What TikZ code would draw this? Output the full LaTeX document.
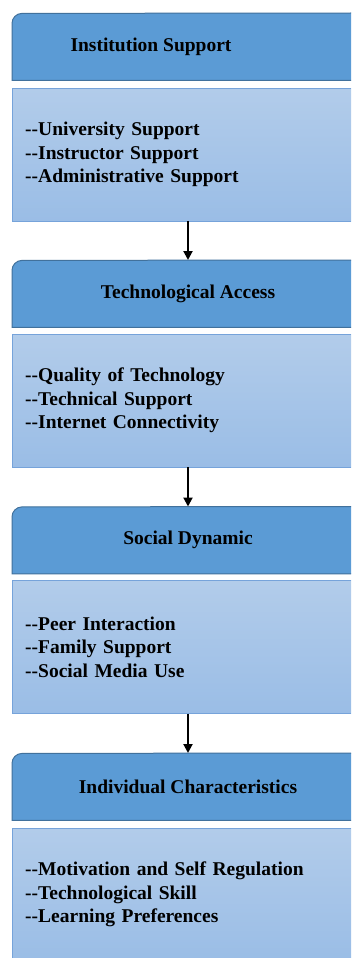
\documentclass[tikz,border=0pt]{standalone}
\usepackage{fontspec}
\setmainfont{Liberation Serif}
\usetikzlibrary{arrows.meta}
\definecolor{hdrfill}{RGB}{91,155,213}
\definecolor{hdrline}{RGB}{65,113,156}
\definecolor{boxtop}{RGB}{178,204,234}
\definecolor{boxbot}{RGB}{154,189,230}
\definecolor{boxline}{RGB}{118,163,218}
% two plain hyphens, kept apart so they do not join into a dash
\newcommand{\bul}{\mbox{-}\mbox{-}}
\tikzset{
  hdrbox/.style={rectangle, anchor=north west, minimum width=339pt, minimum height=67pt, inner sep=0pt},
  hdrtext/.style={font=\fontsize{19.5}{23.5}\selectfont\bfseries, inner sep=0pt},
  itembox/.style={rectangle, anchor=north west, minimum width=339pt, minimum height=133pt,
    inner xsep=13pt, inner ysep=0pt, text width=313pt, align=left,
    top color=boxtop, bottom color=boxbot,
    font=\fontsize{19.5}{23.5}\selectfont\bfseries},
  itemedge/.style={draw=boxline, line width=0.9pt},
  flowarrow/.style={draw=black, line width=2pt, -{Triangle[width=9pt,length=9pt]}},
  hdrshape/.style={fill=hdrfill, draw=hdrline, line width=1pt}
}
% header band: rounded top-left corner, open on the right where it runs off the page
\newcommand{\hdrpath}[1]{%
  \path[hdrshape] (#1.south east) -- (#1.south west) -- ++(0,-57)
    arc[start angle=180, end angle=90, radius=10pt] -- (#1.north east);}
% list box outline, open on the right
\newcommand{\itempath}[1]{%
  \path[itemedge] (#1.north east) -- (#1.north west) -- (#1.south west) -- (#1.south east);}
\begin{document}
\begin{tikzpicture}[x=1pt,y=-1pt]
  \useasboundingbox (0,0) rectangle (351,958);
  \clip (0,0) rectangle (351,958);
  \fill[white] (0,0) rectangle (351,958);
  \coordinate (axis) at (188,0);

  % section headers
  \node[hdrbox] (h1) at (12,13) {};
  \node[hdrbox] (h2) at (12,260) {};
  \node[hdrbox] (h3) at (12,506.5) {};
  \node[hdrbox] (h4) at (12,753) {};
  \hdrpath{h1}\hdrpath{h2}\hdrpath{h3}\hdrpath{h4}
  \node[hdrtext] (t1) at (151,0 |- h1.center) {Institution Support};
  \node[hdrtext] (t2) at (axis |- h2.center) {Technological Access};
  \node[hdrtext] (t3) at (axis |- h3.center) {Social Dynamic};
  \node[hdrtext] (t4) at (axis |- h4.center) {Individual Characteristics};

  % item lists
  \node[itembox] (c1) at (12,88) {\bul University Support\\\bul Instructor Support\\\bul Administrative Support};
  \node[itembox] (c2) at (12,334) {\bul Quality of Technology\\\bul Technical Support\\\bul Internet Connectivity};
  \node[itembox] (c3) at (12,580.5) {\bul Peer Interaction\\\bul Family Support\\\bul Social Media Use};
  \node[itembox] (c4) at (12,828) {\bul Motivation and Self Regulation\\\bul Technological Skill\\\bul Learning Preferences};
  \itempath{c1}\itempath{c2}\itempath{c3}\itempath{c4}

  % flow between sections
  \draw[flowarrow] (axis |- c1.south) -- (axis |- h2.north);
  \draw[flowarrow] (axis |- c2.south) -- (axis |- h3.north);
  \draw[flowarrow] (axis |- c3.south) -- (axis |- h4.north);
\end{tikzpicture}
\end{document}
